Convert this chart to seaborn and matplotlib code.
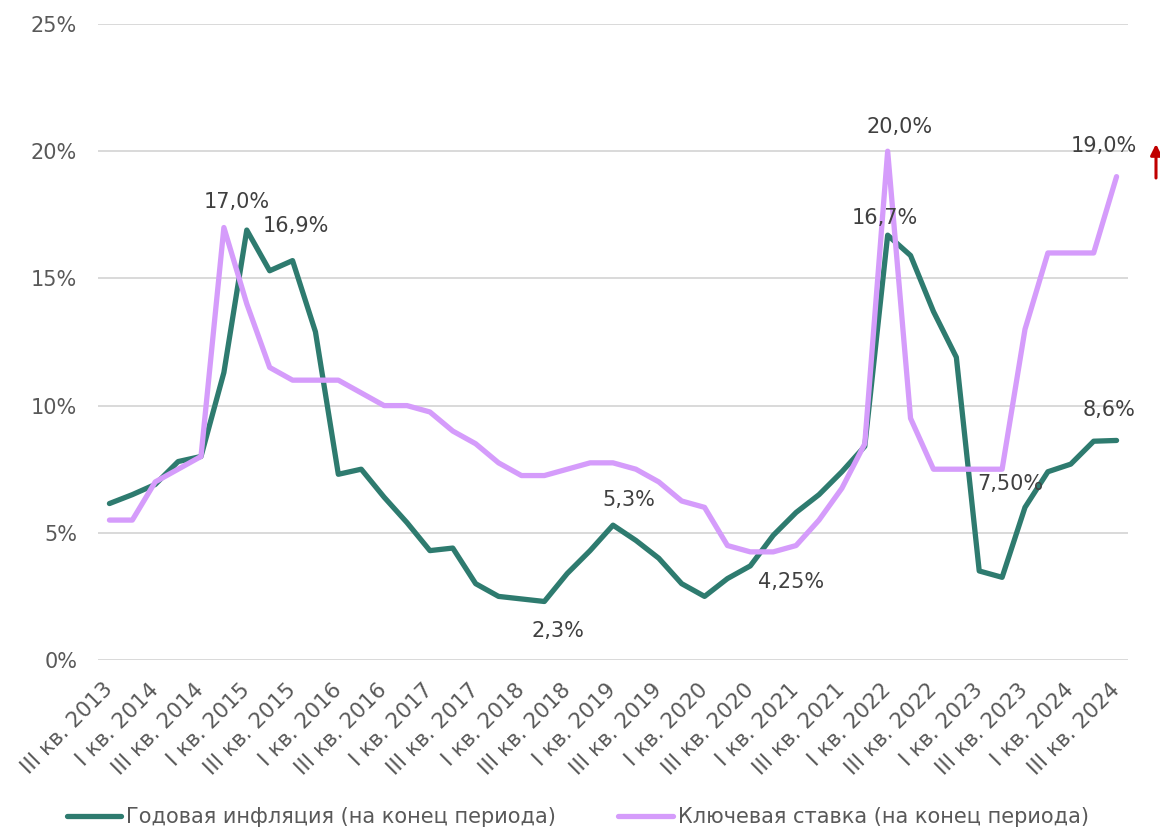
import matplotlib
matplotlib.use("Agg")
import matplotlib.pyplot as plt
import seaborn as sns
import pandas as pd

quarters = [
    "III кв. 2013", "IV кв. 2013",
    "I кв. 2014", "II кв. 2014", "III кв. 2014", "IV кв. 2014",
    "I кв. 2015", "II кв. 2015", "III кв. 2015", "IV кв. 2015",
    "I кв. 2016", "II кв. 2016", "III кв. 2016", "IV кв. 2016",
    "I кв. 2017", "II кв. 2017", "III кв. 2017", "IV кв. 2017",
    "I кв. 2018", "II кв. 2018", "III кв. 2018", "IV кв. 2018",
    "I кв. 2019", "II кв. 2019", "III кв. 2019", "IV кв. 2019",
    "I кв. 2020", "II кв. 2020", "III кв. 2020", "IV кв. 2020",
    "I кв. 2021", "II кв. 2021", "III кв. 2021", "IV кв. 2021",
    "I кв. 2022", "II кв. 2022", "III кв. 2022", "IV кв. 2022",
    "I кв. 2023", "II кв. 2023", "III кв. 2023", "IV кв. 2023",
    "I кв. 2024", "II кв. 2024", "III кв. 2024",
]

inflation = [6.15, 6.5, 6.9, 7.8, 8.0, 11.3, 16.9, 15.3, 15.7, 12.9,
             7.3, 7.5, 6.4, 5.4, 4.3, 4.4, 3.0, 2.5, 2.4, 2.3,
             3.4, 4.3, 5.3, 4.7, 4.0, 3.0, 2.5, 3.2, 3.7, 4.9,
             5.8, 6.5, 7.4, 8.4, 16.7, 15.9, 13.7, 11.9, 3.5, 3.25,
             6.0, 7.4, 7.7, 8.6, 8.63]

key_rate = [5.5, 5.5, 7.0, 7.5, 8.0, 17.0, 14.0, 11.5, 11.0, 11.0,
            11.0, 10.5, 10.0, 10.0, 9.75, 9.0, 8.5, 7.75, 7.25, 7.25,
            7.5, 7.75, 7.75, 7.5, 7.0, 6.25, 6.0, 4.5, 4.25, 4.25,
            4.5, 5.5, 6.75, 8.5, 20.0, 9.5, 7.5, 7.5, 7.5, 7.5,
            13.0, 16.0, 16.0, 16.0, 19.0]

tick_labels = quarters[::2]
y_ticks = [0, 5, 10, 15, 20, 25]
y_tick_labels = ["0%", "5%", "10%", "15%", "20%", "25%"]

series_names = ["Годовая инфляция (на конец периода)",
                "Ключевая ставка (на конец периода)"]
colors = ["#2E7B6F", "#D59CFB"]

# annotations: (series index, point index, text, dx px, dy px)
labels = [
    (1, 5, "17,0%", 13, -26),
    (0, 6, "16,9%", 49, -4),
    (0, 19, "2,3%", 14, 30),
    (0, 22, "5,3%", 16, -25),
    (1, 28, "4,25%", 41, 30),
    (1, 34, "20,0%", 12, -24),
    (0, 34, "16,7%", -3, -17),
    (1, 39, "7,50%", 8, 15),
    (1, 44, "19,0%", -13, -31),
    (0, 44, "8,6%", -7, -30),
]

idx = list(range(len(quarters)))
df = pd.DataFrame({
    "x": idx * 2,
    "value": inflation + key_rate,
    "series": [series_names[0]] * len(idx) + [series_names[1]] * len(idx),
})

sns.set_style("white")
plt.rcParams["font.family"] = ["DejaVu Sans"]

fig = plt.figure(figsize=(11.6, 8.32), dpi=100)
ax = fig.add_axes([98 / 1160, 1 - 660 / 832, (1128 - 98) / 1160, (660 - 24) / 832])

for name, col in zip(series_names, colors):
    sub = df[df["series"] == name]
    sns.lineplot(data=sub, x="x", y="value", ax=ax, color=col, linewidth=3.8,
                 label=name, solid_joinstyle="round", solid_capstyle="round")

ax.set_xlim(-0.5, len(quarters) - 0.5)
ax.set_ylim(0, 25)
ax.set_yticks(y_ticks)
ax.set_yticklabels(y_tick_labels, fontsize=15, color="#595959")
ax.set_xticks(idx[::2])
ax.set_xticklabels(tick_labels, fontsize=15.5, color="#595959", rotation=45,
                   ha="right", va="center", rotation_mode="anchor")
ax.tick_params(axis="both", length=0)
ax.tick_params(axis="y", pad=15)
ax.tick_params(axis="x", pad=19)
ax.set_xlabel("")
ax.set_ylabel("")
ax.grid(axis="y", color="#D9D9D9", linewidth=1.4)
ax.grid(axis="x", visible=False)
ax.set_axisbelow(True)
for s in ax.spines.values():
    s.set_visible(False)

series_values = [inflation, key_rate]
for si, pi, txt, dx, dy in labels:
    ax.annotate(txt, xy=(pi, series_values[si][pi]), xytext=(dx * 0.72, -dy * 0.72),
                textcoords="offset points", ha="center", va="center",
                fontsize=15, color="#404040")

ax.get_legend().remove()
handles, lbls = ax.get_legend_handles_labels()
fig.legend(handles, lbls, loc="center", bbox_to_anchor=(0.498, 1 - 817 / 832),
           ncol=2, frameon=False, fontsize=15, handlelength=2.6,
           handletextpad=0.25, columnspacing=3.0, labelcolor="#595959")

# red arrow at right edge
ax.annotate("", xy=(1156, 832 - 144), xytext=(1156, 832 - 178),
            xycoords="figure pixels", textcoords="figure pixels",
            arrowprops=dict(arrowstyle="-|>", color="#C00000", lw=2.2,
                            mutation_scale=16, shrinkA=0, shrinkB=0),
            annotation_clip=False)

fig.savefig("out.png", dpi=100)
